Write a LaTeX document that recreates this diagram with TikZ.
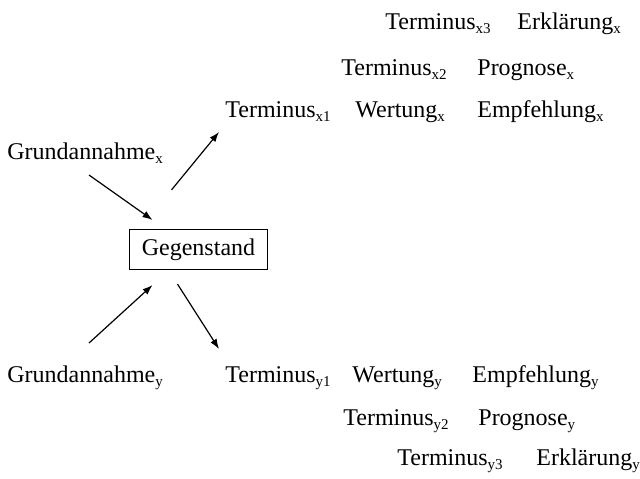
\documentclass[tikz,border=0pt]{standalone}
\usepackage{fontspec}
\setmainfont{Liberation Serif}
\usepackage{tikz}
\usetikzlibrary{arrows.meta}

\newcommand{\idx}[1]{\raisebox{-0.45ex}{\fontsize{7.5pt}{8pt}\selectfont #1}}

\tikzset{
  term/.style={anchor=base west, inner sep=0pt, font=\fontsize{12pt}{14pt}\selectfont},
  subj/.style={draw, line width=0.6pt, inner xsep=0pt, minimum width=69pt, minimum height=20pt, font=\fontsize{12pt}{14pt}\selectfont},
  pfeil/.style={-{Latex[length=5pt,width=3.6pt]}, line width=0.6pt}
}

\begin{document}
\begin{tikzpicture}[x=0.5pt, y=-0.5pt]
    \useasboundingbox (0,0) rectangle (640,478);
    % Grundannahmen und Gegenstand
    \node[term] (gax) at (7,159) {Grundannahme\idx{x}};
    \node[term] (gay) at (7,382) {Grundannahme\idx{y}};
    \node[subj] (geg) at (198.5,249.5) {Gegenstand};
    % Termini x
    \node[term] (tx1) at (225,117) {Terminus\idx{x1}};
    \node[term] (wx) at (355,117) {Wertung\idx{x}};
    \node[term] (ex) at (477,117) {Empfehlung\idx{x}};
    \node[term] (tx2) at (341,75) {Terminus\idx{x2}};
    \node[term] (px) at (477,75) {Prognose\idx{x}};
    \node[term] (tx3) at (385,29) {Terminus\idx{x3}};
    \node[term] (erx) at (517,29) {Erklärung\idx{x}};
    % Termini y
    \node[term] (ty1) at (225,382) {Terminus\idx{y1}};
    \node[term] (wy) at (352,382) {Wertung\idx{y}};
    \node[term] (ey) at (472,382) {Empfehlung\idx{y}};
    \node[term] (ty2) at (343,425) {Terminus\idx{y2}};
    \node[term] (py) at (478,425) {Prognose\idx{y}};
    \node[term] (ty3) at (397,465) {Terminus\idx{y3}};
    \node[term] (ery) at (536,465) {Erklärung\idx{y}};
    % Pfeile
    \draw[pfeil] ([shift={(82,16)}]gax.base west) -- ([shift={(-46,-9)}]geg.north);
    \draw[pfeil] ([shift={(-27,-39)}]geg.north) -- ([shift={(-6,15)}]tx1.base west);
    \draw[pfeil] ([shift={(82,-39)}]gay.base west) -- ([shift={(-46,15)}]geg.south);
    \draw[pfeil] ([shift={(-21,14)}]geg.south) -- ([shift={(-6,-33)}]ty1.base west);
\end{tikzpicture}
\end{document}
